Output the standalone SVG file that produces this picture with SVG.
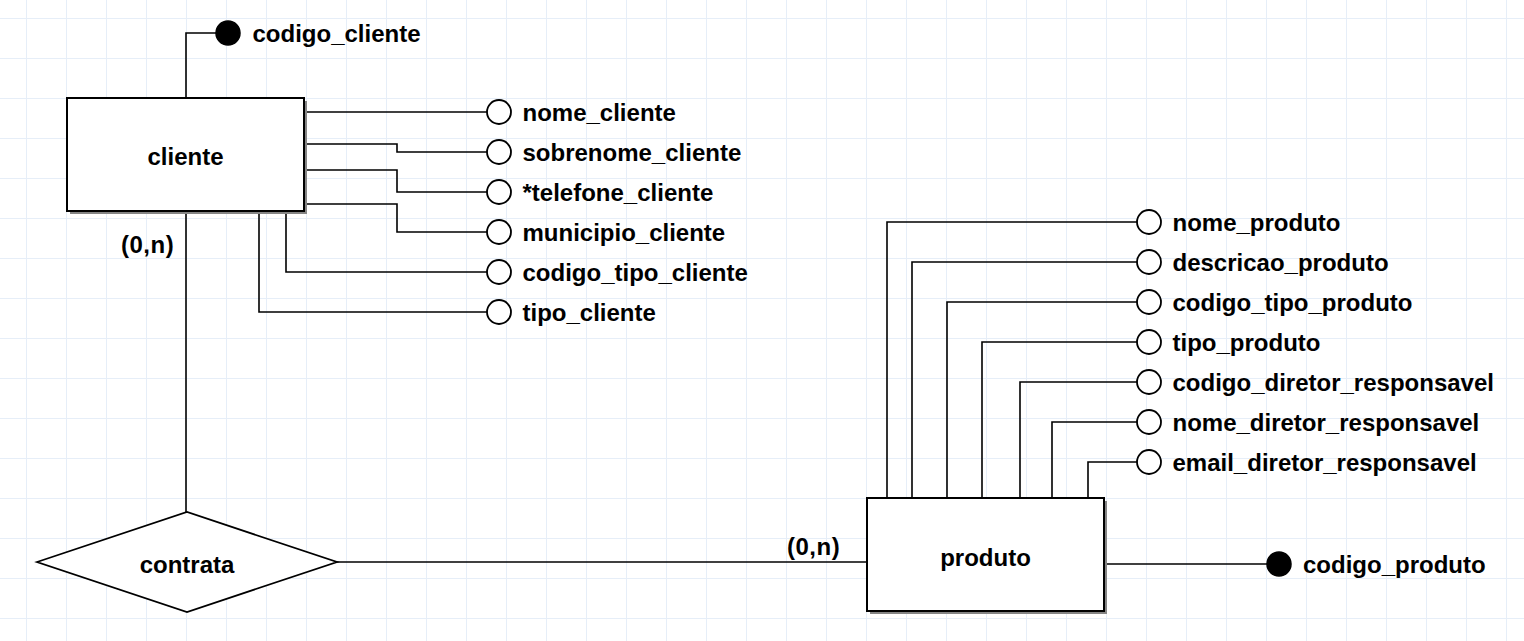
<svg xmlns="http://www.w3.org/2000/svg" width="1524" height="641" viewBox="0 0 1524 641">
<defs>
<pattern id="grid" patternUnits="userSpaceOnUse" x="26" y="18" width="40" height="40">
<path d="M0.5 0V40M0 0.5H40" fill="none" stroke="#e6eef8" stroke-width="1"/>
</pattern>
<style>
text{font-family:"Liberation Sans",Arial,sans-serif;font-weight:bold;font-size:24px;fill:#000}
.ent{fill:#fff;stroke:#000;stroke-width:2}
.sh{fill:#858585}
.rel{fill:#fff;stroke:#000;stroke-width:1.8}
.att{fill:#fff;stroke:#000;stroke-width:1.8}
.key{fill:#000;stroke:#000;stroke-width:1.5}
.c{fill:none;stroke:#000;stroke-width:1.6}
.mid{text-anchor:middle}
</style>
</defs>
<rect width="1524" height="641" fill="#fff"/>
<rect width="1524" height="641" fill="url(#grid)"/>

<g id="connectors">
<path class="c" d="M186 98V33H216"/>
<path class="c" d="M304 112H487"/>
<path class="c" d="M304 144H397V152H487"/>
<path class="c" d="M304 170H397V192H487"/>
<path class="c" d="M304 204H397V232H487"/>
<path class="c" d="M286 211V272H487"/>
<path class="c" d="M259 211V312H487"/>
<path class="c" d="M186 211V512"/>
<path class="c" d="M337 562H867"/>
<path class="c" d="M887 498V222H1137"/>
<path class="c" d="M912 498V262H1137"/>
<path class="c" d="M947 498V302H1137"/>
<path class="c" d="M982 498V342H1137"/>
<path class="c" d="M1020 498V382H1137"/>
<path class="c" d="M1052 498V422H1137"/>
<path class="c" d="M1088 498V462H1137"/>
<path class="c" d="M1104 564H1267"/>
<text x="121" y="253" letter-spacing="0.5">(0,n)</text>
<text x="787" y="555" letter-spacing="0.5">(0,n)</text>
</g>

<g id="cliente">
<rect class="sh" x="70" y="101" width="237" height="113"/>
<rect class="ent" x="67" y="98" width="237" height="113"/>
<text class="mid" x="185.5" y="165">cliente</text>
</g>

<g id="contrata">
<polygon class="rel" points="37,562 187,512 337,562 187,612"/>
<text class="mid" x="187" y="573">contrata</text>
</g>

<g id="produto">
<rect class="sh" x="870" y="501" width="237" height="113"/>
<rect class="ent" x="867" y="498" width="237" height="113"/>
<text class="mid" x="985.5" y="566">produto</text>
</g>

<g id="attr-codigo_cliente"><circle class="key" cx="228" cy="33" r="12"/><text x="252.5" y="42">codigo_cliente</text></g>
<g id="attr-nome_cliente"><circle class="att" cx="499" cy="112" r="12"/><text x="522.5" y="121">nome_cliente</text></g>
<g id="attr-sobrenome_cliente"><circle class="att" cx="499" cy="152" r="12"/><text x="522.5" y="161">sobrenome_cliente</text></g>
<g id="attr-telefone_cliente"><circle class="att" cx="499" cy="192" r="12"/><text x="522.5" y="201">*telefone_cliente</text></g>
<g id="attr-municipio_cliente"><circle class="att" cx="499" cy="232" r="12"/><text x="522.5" y="241">municipio_cliente</text></g>
<g id="attr-codigo_tipo_cliente"><circle class="att" cx="499" cy="272" r="12"/><text x="522.5" y="281">codigo_tipo_cliente</text></g>
<g id="attr-tipo_cliente"><circle class="att" cx="499" cy="312" r="12"/><text x="522.5" y="321">tipo_cliente</text></g>

<g id="attr-nome_produto"><circle class="att" cx="1149" cy="222" r="12"/><text x="1172.5" y="231">nome_produto</text></g>
<g id="attr-descricao_produto"><circle class="att" cx="1149" cy="262" r="12"/><text x="1172.5" y="271">descricao_produto</text></g>
<g id="attr-codigo_tipo_produto"><circle class="att" cx="1149" cy="302" r="12"/><text x="1172.5" y="311">codigo_tipo_produto</text></g>
<g id="attr-tipo_produto"><circle class="att" cx="1149" cy="342" r="12"/><text x="1172.5" y="351">tipo_produto</text></g>
<g id="attr-codigo_diretor_responsavel"><circle class="att" cx="1149" cy="382" r="12"/><text x="1172.5" y="391">codigo_diretor_responsavel</text></g>
<g id="attr-nome_diretor_responsavel"><circle class="att" cx="1149" cy="422" r="12"/><text x="1172.5" y="431">nome_diretor_responsavel</text></g>
<g id="attr-email_diretor_responsavel"><circle class="att" cx="1149" cy="462" r="12"/><text x="1172.5" y="471">email_diretor_responsavel</text></g>
<g id="attr-codigo_produto"><circle class="key" cx="1279" cy="564" r="12"/><text x="1303" y="573">codigo_produto</text></g>
</svg>
